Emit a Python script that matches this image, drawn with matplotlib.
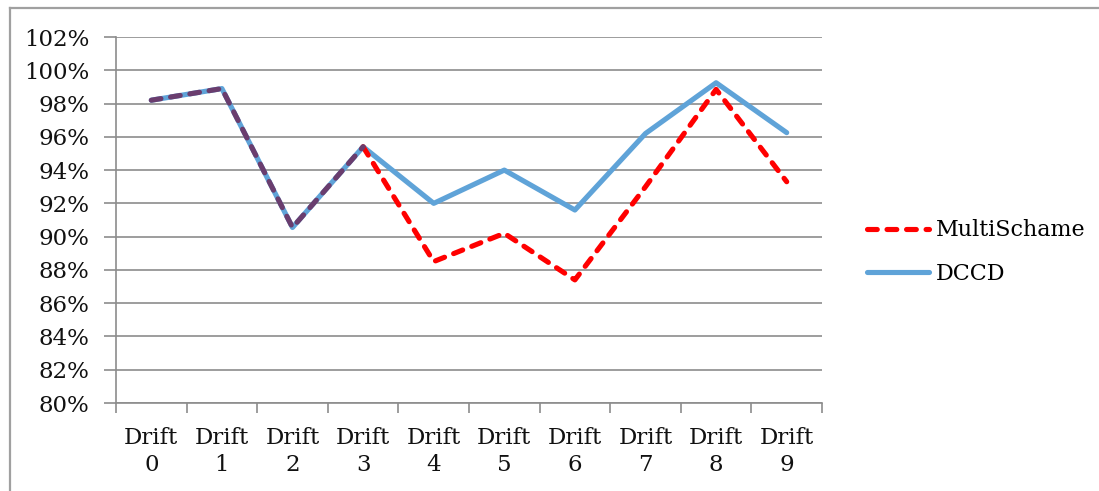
import matplotlib
matplotlib.use("Agg")
import matplotlib.pyplot as plt
from matplotlib.lines import Line2D
from matplotlib.ticker import FuncFormatter, FixedLocator

categories = ["Drift\n0", "Drift\n1", "Drift\n2", "Drift\n3", "Drift\n4",
              "Drift\n5", "Drift\n6", "Drift\n7", "Drift\n8", "Drift\n9"]
multischame = [98.2, 98.9, 90.55, 95.4, 88.5, 90.2, 87.4, 93.0, 98.85, 93.3]
dccd = [98.2, 98.9, 90.55, 95.4, 92.0, 94.0, 91.6, 96.2, 99.25, 96.25]
yticks = list(range(80, 103, 2))

FONT = "DejaVu Serif"
W, H = 1099, 491
fig = plt.figure(figsize=(W / 100, H / 100), dpi=100)
ax = fig.add_axes([116 / W, 1 - 403 / H, (822 - 116) / W, (403 - 37) / H])

x = list(range(len(categories)))
blue = "#5FA3D8"
red = "#FF0000"
purple = "#6A3D6E"
LW = 3.7
DASH = (1.9, 1.9)

ax.plot(x, dccd, color=blue, lw=LW, solid_capstyle="round", zorder=3)
ax.plot(x[3:], multischame[3:], color=red, lw=LW, dashes=DASH,
        dash_capstyle="round", zorder=4)
ax.plot(x[:4], multischame[:4], color=purple, lw=LW, dashes=DASH,
        dash_capstyle="round", zorder=4)

ax.set_xlim(-0.5, len(categories) - 0.5)
ax.set_ylim(80, 102)
ax.yaxis.set_major_locator(FixedLocator(yticks))
ax.yaxis.set_major_formatter(FuncFormatter(lambda v, p: f"{v:.0f}%"))
ax.grid(axis="y", color="#8C8C8C", lw=1.2)
ax.set_axisbelow(True)

ax.set_xticks([i - 0.5 for i in range(len(categories) + 1)])
ax.set_xticklabels([])
ax.set_xticks(x, minor=True)
ax.set_xticklabels(categories, minor=True, fontfamily=FONT, fontsize=16.5,
                   linespacing=1.3, color="#111111")
ax.tick_params(axis="x", which="major", length=7, color="#8C8C8C", width=1.2)
ax.tick_params(axis="x", which="minor", length=0, pad=17)
ax.tick_params(axis="y", length=9, color="#8C8C8C", width=1.2, pad=10)
for lab in ax.get_yticklabels():
    lab.set_fontfamily(FONT)
    lab.set_fontsize(16.5)
    lab.set_color("#111111")

for s in ["top", "right"]:
    ax.spines[s].set_visible(False)
for s in ["left", "bottom"]:
    ax.spines[s].set_color("#8C8C8C")
    ax.spines[s].set_linewidth(1.2)

handles = [Line2D([], [], color=red, lw=LW, dashes=DASH, dash_capstyle="round"),
           Line2D([], [], color=blue, lw=LW, solid_capstyle="round")]
fig.legend(handles, ["MultiSchame", "DCCD"], loc="center left",
           bbox_to_anchor=(847 / W, 1 - 252 / H), frameon=False,
           prop={"family": FONT, "size": 16}, handlelength=2.8,
           handletextpad=0.3, labelspacing=0.95)

# outer chart border (left & top visible)
fig.add_artist(Line2D([9.5 / W, 9.5 / W], [0, 1 - 7.5 / H], color="#A0A0A0",
                      lw=1.6, transform=fig.transFigure))
fig.add_artist(Line2D([9.5 / W, 1], [1 - 7.5 / H, 1 - 7.5 / H], color="#A0A0A0",
                      lw=1.6, transform=fig.transFigure))

fig.savefig("out.png", dpi=100, facecolor="white")
